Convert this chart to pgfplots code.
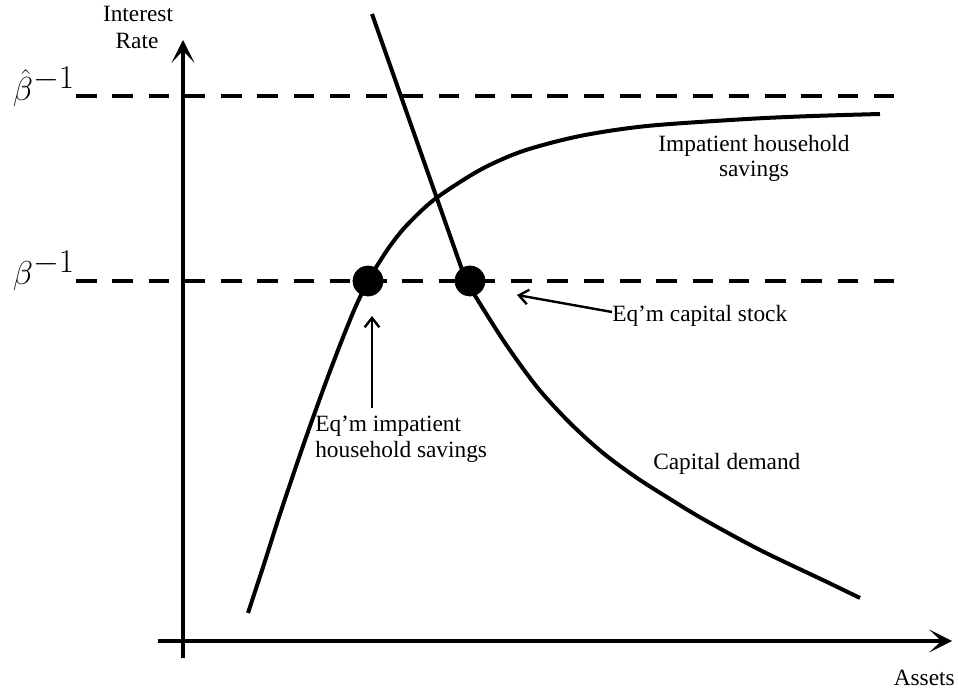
\documentclass[border=0pt]{standalone}
\usepackage{pgfplots}
\pgfplotsset{compat=1.18}
\usepackage{fontspec}
\setmainfont{Liberation Serif}
\usetikzlibrary{arrows.meta}

\begin{document}
\begin{tikzpicture}[
  lbl/.style={inner sep=0pt, font=\fontsize{17.5}{20}\selectfont},
  mlbl/.style={inner sep=0pt, font=\fontsize{35}{37}\selectfont},
]
\begin{axis}[
  width=718.5pt, height=517.5pt, scale only axis,
  xmin=0, xmax=958, ymin=0, ymax=690,
  hide axis, clip=false,
]
\path (0,0) rectangle (958,690);

% axes
\addplot[line width=3.5pt, -{Stealth[length=17pt,width=17pt,inset=9pt]}]
  coordinates {(183,32) (183,650)};
\addplot[line width=3.5pt, -{Stealth[length=17pt,width=17pt,inset=9pt]}]
  coordinates {(158,49) (952,49)};

% discount-rate lines
\addplot[line width=3.6pt, dash pattern=on 15.4pt off 11.8pt]
  coordinates {(76,594) (895,594)};
\addplot[line width=3.6pt, dash pattern=on 15.4pt off 11.8pt]
  coordinates {(76,409) (895,409)};

% impatient household savings
\addplot[line width=3pt, smooth] coordinates {
  (248,77) (265,129) (280,176) (303,244) (323,300) (340,345) (355,382)
  (368,409) (375,421) (390,444) (407,465) (435,491) (480,520) (523,539)
  (580,554) (647,564) (747,571) (813,574) (880,576)};

% capital demand
\addplot[line width=3pt] coordinates {(372,676) (466,409)};
\addplot[line width=3pt, smooth] coordinates {
  (466,409) (503,350) (537,303) (570,267) (603,237) (637,212) (670,191)
  (703,171) (760,140) (827,108) (860,92)};

% equilibrium points
\addplot[only marks, mark=*, mark size=11.3pt, black] coordinates {(368,409) (470,409)};

% annotation arrows
\addplot[line width=1.8pt, -{Straight Barb[length=7pt,width=11pt]}]
  coordinates {(372,282) (372,374)};
\addplot[line width=1.8pt, -{Straight Barb[length=7pt,width=11pt]}]
  coordinates {(612,378) (517,395)};

% labels
\node[lbl, anchor=base] at (138,668) {Interest};
\node[lbl, anchor=base] at (137,641) {Rate};
\node[lbl, anchor=base east] at (955,5) {Assets};
\node[mlbl, anchor=base east] at (75,589) {$\hat{\beta}^{-1}$};
\node[mlbl, anchor=base east] at (75,405) {$\beta^{-1}$};
\node[lbl, anchor=base] at (754,538) {Impatient household};
\node[lbl, anchor=base] at (754,513) {savings};
\node[lbl, anchor=base west] at (612,368) {Eq’m capital stock};
\node[lbl, anchor=base west] at (315,258) {Eq’m impatient};
\node[lbl, anchor=base west] at (315,232) {household savings};
\node[lbl, anchor=base west] at (653,220) {Capital demand};
\end{axis}
\end{tikzpicture}
\end{document}
